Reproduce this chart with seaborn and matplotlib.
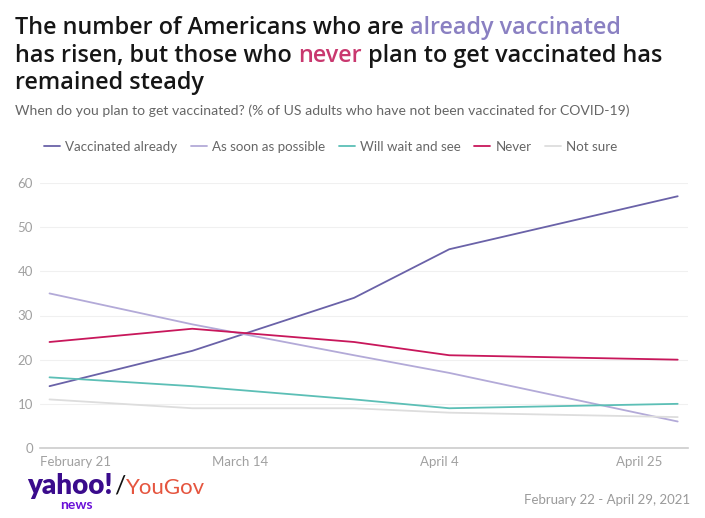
import pandas as pd
import matplotlib.pyplot as plt
import seaborn as sns

# --- data ---
survey_dates = ['2021-02-22', '2021-03-09', '2021-03-26', '2021-04-05', '2021-04-29']
vaccinated_already = [14, 22, 34, 45, 57]
as_soon_as_possible = [35, 28, 21, 17, 6]
wait_and_see = [16, 14, 11, 9, 10]
never = [24, 27, 24, 21, 20]
not_sure = [11, 9, 9, 8, 7]

series_names = ['Vaccinated already', 'As soon as possible', 'Will wait and see', 'Never', 'Not sure']
series_colors = ['#6a62a8', '#b3aad8', '#5cbfb6', '#c8175b', '#dddddd']

tick_dates = ['2021-02-21', '2021-03-14', '2021-04-04', '2021-04-25']
tick_labels = ['February 21', 'March 14', 'April 4', 'April 25']
y_ticks = [0, 10, 20, 30, 40, 50, 60]

# long format table for seaborn
values = [vaccinated_already, as_soon_as_possible, wait_and_see, never, not_sure]
rows = []
for name, vals in zip(series_names, values):
    for d, v in zip(survey_dates, vals):
        rows.append({'date': pd.Timestamp(d), 'value': v, 'series': name})
df = pd.DataFrame(rows)

sns.set_style('white')
plt.rcParams['font.family'] = ['Lato', 'DejaVu Sans']

W, H = 705, 518
fig = plt.figure(figsize=(W / 100, H / 100), dpi=100)
ax = fig.add_axes([40 / W, 70 / H, 648 / W, 265 / H])

sns.lineplot(data=df, x='date', y='value', hue='series', hue_order=series_names,
             palette=dict(zip(series_names, series_colors)), linewidth=1.3, ax=ax)

# axes styling
ax.set_xlim(pd.Timestamp('2021-02-21'), pd.Timestamp('2021-04-30 02:00'))
ax.set_ylim(0, 60)
ax.set_yticks(y_ticks)
ax.set_xticks(pd.to_datetime(tick_dates))
ax.set_xticklabels(tick_labels)
ax.xaxis.get_ticklabels()[0].set_horizontalalignment('left')
ax.tick_params(axis='both', length=0, labelsize=9.5, labelcolor='#a0a0a0')
ax.tick_params(axis='x', pad=6)
ax.tick_params(axis='y', pad=5)
ax.grid(axis='y', color='#f0f0f0', linewidth=0.8)
ax.set_axisbelow(True)
for s in ['top', 'right', 'left']:
    ax.spines[s].set_visible(False)
ax.spines['bottom'].set_color('#cccccc')
ax.spines['bottom'].set_linewidth(1.2)
ax.set_xlabel('')
ax.set_ylabel('')

# legend across the top
handles, labels = ax.get_legend_handles_labels()
ax.legend(handles, labels, loc='center left', bbox_to_anchor=(32 / W, 1 - 147 / H),
          bbox_transform=fig.transFigure, ncol=5, frameon=False, fontsize=9.6,
          handlelength=1.2, handletextpad=0.4, columnspacing=1.0, labelcolor='#666666')

# --- title with coloured words ---
renderer = fig.canvas.get_renderer()


def text_width(s, **kw):
    t = fig.text(0, 0, s, **kw)
    w = t.get_window_extent(renderer).width
    t.remove()
    return w


def draw_line(x0, y_base, segments, **kw):
    space_w = text_width('a a', **kw) - text_width('aa', **kw)
    prefix = ''
    for txt, col in segments:
        stripped = prefix.rstrip()
        n_sp = len(prefix) - len(stripped)
        off = (text_width(stripped, **kw) if stripped else 0) + n_sp * space_w
        fig.text((x0 + off) / W, 1 - y_base / H, txt, color=col, va='baseline', ha='left', **kw)
        prefix += txt


title_kw = dict(fontsize=16.8, fontweight='semibold', family=['Open Sans', 'DejaVu Sans'])
draw_line(15, 34, [('The number of Americans who are ', '#161616'),
                   ('already vaccinated', '#8a80c2')], **title_kw)
draw_line(15, 62, [('has risen, but those who ', '#161616'),
                   ('never', '#c9386f'),
                   (' plan to get vaccinated has', '#161616')], **title_kw)
draw_line(15, 89, [('remained steady', '#161616')], **title_kw)

fig.text(15 / W, 1 - 115 / H,
         'When do you plan to get vaccinated? (% of US adults who have not been vaccinated for COVID-19)',
         fontsize=10.1, color='#666666', va='baseline')

# --- footer ---
fig.text(27 / W, 1 - 494 / H, 'yahoo!', fontsize=20, fontweight='heavy', color='#3a0b8c', va='baseline')
fig.text(114 / W, 1 - 494 / H, '/', fontsize=18, color='#111111', va='baseline')
fig.text(126 / W, 1 - 494 / H, 'YouGov', fontsize=16, color='#e5553f', va='baseline')
fig.text(60 / W, 1 - 509 / H, 'news', fontsize=10, fontweight='bold', color='#6a10d8', va='baseline')
fig.text(690 / W, 1 - 504 / H, 'February 22 - April 29, 2021', fontsize=9.5,
         color='#9a9a9a', ha='right', va='baseline')

fig.savefig('out.png', dpi=100)
